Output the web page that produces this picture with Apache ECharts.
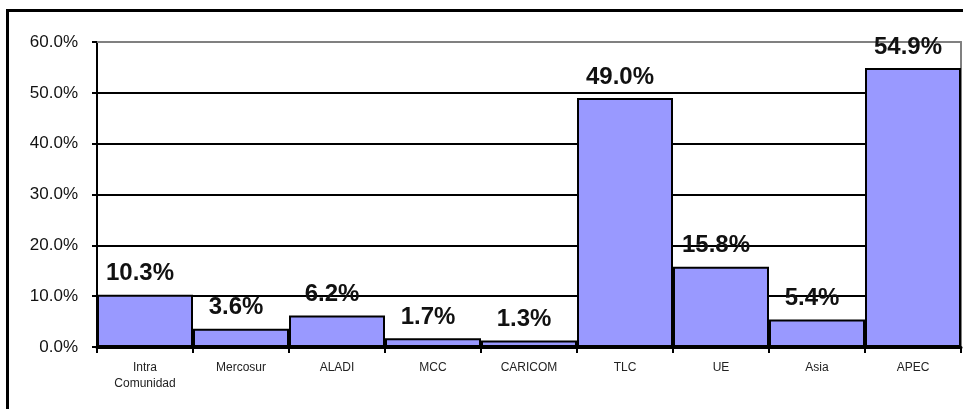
<!DOCTYPE html>
<html>
<head>
<meta charset="utf-8">
<script src="https://cdn.jsdelivr.net/npm/echarts@6/dist/echarts.min.js"></script>
<style>
    html, body { margin: 0; padding: 0; background: #fff; overflow: hidden; }
    .frame {
        position: absolute;
        left: 6px;
        top: 9px;
        width: 1000px;
        height: 500px;
        border-left: 3px solid #000;
        border-top: 3px solid #000;
    }
    #chart { position: absolute; left: 0; top: 0; width: 963px; height: 409px; }
</style>
</head>
<body>
<div class="frame"></div>
<div id="chart"></div>
<script>
const categories = ["Intra\nComunidad", "Mercosur", "ALADI", "MCC", "CARICOM", "TLC", "UE", "Asia", "APEC"];
const shares = [10.3, 3.6, 6.2, 1.7, 1.3, 49.0, 15.8, 5.4, 54.9];
const yTicks = { min: 0, max: 60, interval: 10 };

const chart = echarts.init(document.getElementById("chart"));
const font = "Liberation Sans, Arial, sans-serif";

chart.setOption({
    animation: false,
    grid: { left: 97, right: 2, top: 42, bottom: 62 },
    xAxis: [
        {
            type: "category",
            data: categories,
            axisLine: { onZero: false, lineStyle: { color: "#000", width: 3 } },
            axisTick: { show: true, length: 6, lineStyle: { color: "#000", width: 2 } },
            axisLabel: {
                color: "#222",
                fontFamily: font,
                fontSize: 12,
                margin: 13,
                lineHeight: 16,
                interval: 0,
            },
        },
        {
            type: "category",
            position: "top",
            data: categories,
            axisLine: { onZero: false, lineStyle: { color: "#808080", width: 2 } },
            axisTick: { show: false },
            axisLabel: { show: false },
        },
    ],
    yAxis: [
        {
            type: "value",
            min: yTicks.min,
            max: yTicks.max,
            interval: yTicks.interval,
            axisLine: { show: true, lineStyle: { color: "#000", width: 2 } },
            axisTick: { show: true, length: 5, lineStyle: { color: "#000", width: 2 } },
            axisLabel: {
                color: "#111",
                fontFamily: font,
                fontSize: 17,
                margin: 19,
                formatter: (v) => v.toFixed(1) + "%",
            },
            splitLine: {
                show: true,
                showMinLine: false,
                showMaxLine: false,
                lineStyle: { color: "#000", width: 2 },
            },
        },
        {
            type: "value",
            position: "right",
            min: yTicks.min,
            max: yTicks.max,
            interval: yTicks.interval,
            axisLine: { show: true, lineStyle: { color: "#808080", width: 2 } },
            axisTick: { show: false },
            axisLabel: { show: false },
            splitLine: { show: false },
        },
    ],
    series: [
        {
            type: "bar",
            data: shares,
            barCategoryGap: 0,
            itemStyle: { color: "#9999FF", borderColor: "#000", borderWidth: 2 },
            label: {
                show: true,
                position: "top",
                distance: 9,
                offset: [-5, 0],
                color: "#111",
                fontFamily: font,
                fontWeight: "bold",
                fontSize: 24,
                formatter: (p) => p.value.toFixed(1) + "%",
            },
        },
    ],
});
</script>
</body>
</html>
